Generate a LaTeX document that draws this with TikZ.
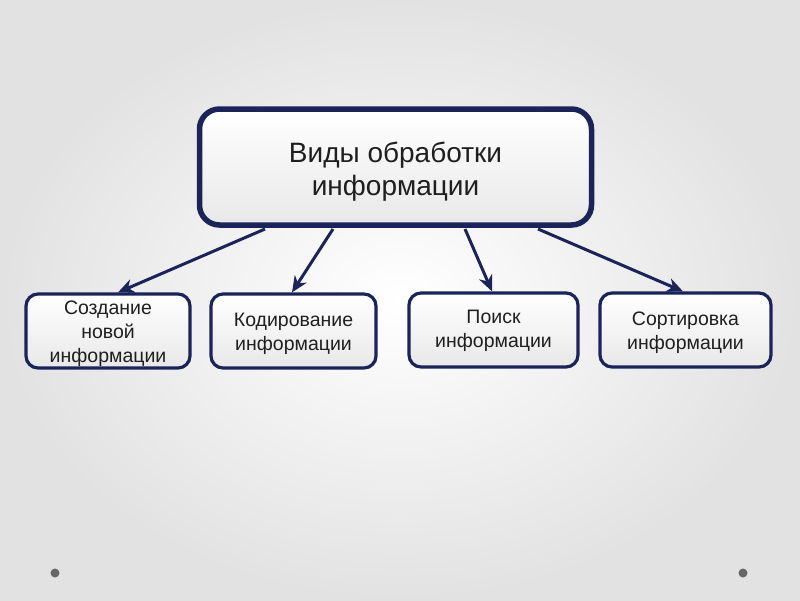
\documentclass[tikz,border=0pt]{standalone}
\usepackage{fontspec}
\setmainfont{Liberation Sans}
\usetikzlibrary{arrows.meta}
\definecolor{navy}{HTML}{1A2458}
\definecolor{bgout}{HTML}{E2E2E2}
\definecolor{boxbot}{HTML}{E8E8E8}
\definecolor{dotc}{HTML}{666666}
\tikzset{
  mainbox/.style={draw=navy, line width=5.5pt, rounded corners=20pt, top color=white, bottom color=boxbot,
    minimum width=392pt, minimum height=116pt},
  maintext/.style={align=center, font=\fontsize{28}{33}\selectfont, text=black!88, inner sep=0pt},
  subbox/.style={draw=navy, line width=3.2pt, rounded corners=12pt, top color=white, bottom color=boxbot,
    minimum height=74pt, inner sep=0pt},
  subtext/.style={align=center, font=\fontsize{19.5}{24}\selectfont, text=black!88, inner sep=0pt},
  conn/.style={draw=navy, line width=3pt, -{Stealth[length=16pt,width=14pt,inset=5pt]}},
  dot/.style={circle, fill=dotc, minimum size=9pt, inner sep=0pt},
}
\begin{document}
\begin{tikzpicture}[x=1pt,y=-1pt]
\shade[inner color=white, outer color=bgout] (0,0) rectangle (800,600);
\useasboundingbox (0,0) rectangle (800,600);
\node[mainbox] (top) at (395.5,167) {};
\node[maintext] (toptxt) at ([yshift=-4.5pt]top.center) {Виды обработки\\информации};
\node[subbox, minimum width=164pt] (a) at (108,331) {};
\node[subbox, minimum width=165pt] (b) at (293.5,331) {};
\node[subbox, minimum width=169pt] (c) at (493.5,330) {};
\node[subbox, minimum width=171pt] (d) at (685.5,330) {};
\node[subtext] (at) at ([yshift=-3pt]a.center) {Создание\\новой\\информации};
\node[subtext] (bt) at ([yshift=-3pt]b.center) {Кодирование\\информации};
\node[subtext] (ct) at ([yshift=-1pt]c.center) {Поиск\\информации};
\node[subtext] (dt) at ([yshift=-3pt]d.center) {Сортировка\\информации};
\coordinate (s1) at (265,229);
\coordinate (s2) at (333,229);
\coordinate (s3) at (465,229);
\coordinate (s4) at (538,229);
\draw[conn] (s1) -- (a.north -| 118,0);
\draw[conn] (s2) -- (b.north -| 292,0);
\draw[conn] (s3) -- (c.north -| 492,0);
\draw[conn] (s4) -- (d.north -| 683,0);
\node[dot] (p1) at (55,573) {};
\node[dot] (p2) at (743,573) {};
\end{tikzpicture}
\end{document}
